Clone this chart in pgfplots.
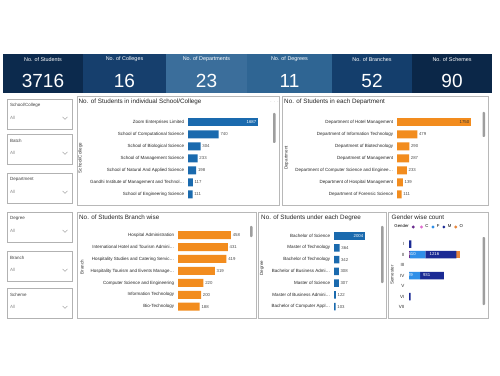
\documentclass[border=0pt]{standalone}
\usepackage{fontspec}
\setmainfont{Liberation Sans}
\usepackage{pgfplots}
\pgfplotsset{compat=1.18}
\definecolor{k1}{HTML}{0C2A4D}
\definecolor{k2}{HTML}{163F6D}
\definecolor{k3}{HTML}{3B6E9B}
\definecolor{k4}{HTML}{2F6593}
\definecolor{k5}{HTML}{143E6C}
\definecolor{k6}{HTML}{0B2748}
\definecolor{cblue}{HTML}{1A6AAE}
\definecolor{corange}{HTML}{F28C1E}
\definecolor{gpurple}{HTML}{6B2D8F}
\definecolor{gpink}{HTML}{E06FD0}
\definecolor{glblue}{HTML}{2F8FE8}
\definecolor{gnavy}{HTML}{1B2A94}
\definecolor{gorange}{HTML}{E8873D}
\newcommand\fa{\fontsize{4.5}{5.2}\selectfont}
\newcommand\fv{\fontsize{4.3}{5}\selectfont}
\newcommand\fb{\fontsize{6.3}{7.2}\selectfont}
\newcommand\fk{\fontsize{5.4}{6.2}\selectfont}
\newcommand\fn{\fontsize{19}{21}\selectfont}
\newcommand\el{\ldots}
\newcommand\slicer[2]{%
  \pgfmathsetmacro\yt{375-#2}%
  \draw[draw=black!30, fill=white, line width=0.4pt] (7,\yt) rectangle (72,\yt-30);
  \node[anchor=west, font=\fa, text=black!75, inner sep=0pt] at (10,\yt-6.5) {#1};
  \node[anchor=west, font=\fa, text=black!45, inner sep=0pt] at (10,\yt-19) {All};
  \draw[black!45, line width=0.35pt] (62.5,\yt-18) -- (65,\yt-20.3) -- (67.5,\yt-18);
}
\pgfplotsset{
  hb/.style={xbar, scale only axis, anchor=south west, xmin=0,
    y dir=reverse, ymin=-0.5, ymax=6.5, ytick={0,1,2,3,4,5,6}, xtick=\empty,
    axis line style={draw=none}, major tick length=0pt, bar shift=0pt,
    clip=false, point meta=x,
    yticklabel style={font=\fa, text=black!85, xshift=-0.3pt},
    nodes near coords, nodes near coords align=horizontal,
    every node near coord/.append style={font=\fv, text=black!70, inner sep=1.6pt},
    /pgf/number format/assume math mode=true,
    /pgf/number format/1000 sep={}},
}
\begin{document}
\begin{tikzpicture}[x=1pt,y=1pt]
\fill[white] (0,0) rectangle (500,375);
% KPI cards
\foreach \xa/\xb/\c/\t/\n in {3/83/k1/No. of Students/3716, 83/166/k2/No. of Colleges/16, 166/247/k3/No. of Departments/23, 247/332/k4/No. of Degrees/11, 332/412/k5/No. of Branches/52, 412/492/k6/No. of Schemes/90}{
  \fill[\c] (\xa,282) rectangle (\xb,321);
  \node[text=white, font=\fk, inner sep=0pt] at ({(\xa+\xb)/2},315.5) {\t};
  \node[text=white, font=\fn, inner sep=0pt] at ({(\xa+\xb)/2},294) {\n};
}
% slicers
\slicer{School/College}{99}
\slicer{Batch}{134}
\slicer{Department}{173}
\slicer{Degree}{212}
\slicer{Branch}{251}
\slicer{Scheme}{288}
% panels
\foreach \xa/\ya/\xb/\yb in {77/170/279.5/279, 282/170/488/279, 77/57/256/163, 258/57/386.5/163, 388.5/57/488/163}{
  \draw[draw=black!28, fill=white, line width=0.4pt] (\xa,\ya) rectangle (\xb,\yb);
}
% scrollbars
\foreach \xa/\ya/\yb in {273/232/262, 482.5/238/263, 250/138/149, 381/92/149, 482.5/70/138}{
  \fill[black!38, rounded corners=0.8pt] (\xa,\ya) rectangle (\xa+2.5,\yb);
}
% titles
\node[anchor=west, font=\fb, text=black!85, inner sep=0pt] at (78.5,273) {No. of Students in individual School/College};
\node[anchor=west, font=\fb, text=black!85, inner sep=0pt] at (284,273) {No. of Students in each Department};
\node[anchor=west, font=\fb, text=black!85, inner sep=0pt] at (79,157.3) {No. of Students Branch wise};
\node[anchor=west, font=\fb, text=black!85, inner sep=0pt] at (261,157.3) {No. of Students under each Degree};
\node[anchor=west, font=\fb, text=black!85, inner sep=0pt] at (391.5,158) {Gender wise count};
% toolbar icons on first panel
\node[font=\fa, text=black!40, inner sep=0pt] at (274.5,273) {$\cdots$};
% axis titles
\node[rotate=90, font=\fa, text=black!80, inner sep=0pt] at (80.5,217) {School/College};
\node[rotate=90, font=\fa, text=black!80, inner sep=0pt] at (286.5,217) {Department};
\node[rotate=90, font=\fa, text=black!80, inner sep=0pt] at (82,108) {Branch};
\node[rotate=90, font=\fa, text=black!80, inner sep=0pt] at (262,107) {Degree};
\node[rotate=90, font=\fa, text=black!80, inner sep=0pt] at (392,100) {Semester};

% Panel 1: school/college
\begin{axis}[hb, at={(188pt,174.7pt)}, width=82pt, height=84pt, xmax=1976,
  yticklabels={Zoom Enterprises Limited, School of Computational Science, School of Biological Science, School of Management Science, School of Natural And Applied Science, {Gandhi Institute of Management and Technol\el}, School of Engineering Science}]
\addplot[fill=cblue, draw=none, bar width=8pt, every node near coord/.append style={anchor=east, text=white}] coordinates {(1687,0)};
\addplot[fill=cblue, draw=none, bar width=8pt] coordinates {(740,1) (304,2) (233,3) (198,4) (117,5) (111,6)};
\end{axis}

% Panel 2: department
\begin{axis}[hb, at={(397pt,174.7pt)}, width=80pt, height=84pt, xmax=1892,
  yticklabels={Department of Hotel Management, Department of Information Technology, Department of Biotechnology, Department of Management, {Department of Computer Science and Enginee\el}, Department of Hospital Management, Department of Forensic Science}]
\addplot[fill=corange, draw=none, bar width=8pt, every node near coord/.append style={anchor=east, text=black!80}] coordinates {(1750,0)};
\addplot[fill=corange, draw=none, bar width=8pt] coordinates {(479,1) (290,2) (287,3) (233,4) (139,5) (111,6)};
\end{axis}

% Panel 3: branch
\begin{axis}[hb, at={(178pt,62.3pt)}, width=62pt, height=83.6pt, xmax=536,
  yticklabels={Hospital Administration, {International Hotel and Tourism Admini\el}, {Hospitality Studies and Catering Servic\el}, {Hospitality Tourism and Events Manage\el}, Computer Science and Engineering, Information Technology, Bio-Technology}]
\addplot[fill=corange, draw=none, bar width=8pt] coordinates {(458,0) (431,1) (419,2) (319,3) (220,4) (200,5) (188,6)};
\end{axis}

% Panel 4: degree
\begin{axis}[hb, at={(334pt,62.4pt)}, width=40pt, height=82.5pt, xmax=2586,
  yticklabels={Bachelor of Science, Master of Technology, Bachelor of Technology, {Bachelor of Business Admi\el}, Master of Science, {Master of Business Admini\el}, {Bachelor of Computer Appl\el}}]
\addplot[fill=cblue, draw=none, bar width=7.5pt, every node near coord/.append style={anchor=east, text=white}] coordinates {(2004,0)};
\addplot[fill=cblue, draw=none, bar width=7.5pt] coordinates {(364,1) (342,2) (308,3) (307,4) (122,5) (103,6)};
\end{axis}

% Panel 5: gender stacked
\begin{axis}[xbar stacked, scale only axis, anchor=south west, at={(409pt,62.75pt)},
  width=70pt, height=73.5pt, xmin=0, xmax=2730,
  y dir=reverse, ymin=-0.5, ymax=6.5, ytick={0,1,2,3,4,5,6},
  yticklabels={I,II,III,IV,V,VI,VII}, xtick=\empty,
  axis line style={draw=none}, major tick length=0pt, bar width=7.5pt, clip=false,
  yticklabel style={font=\fa, text=black!85, xshift=-1pt},
  legend style={at={(-0.243,1.16)}, anchor=west, draw=none, fill=none,
    legend columns=-1, font=\fv, inner sep=0pt,
    /tikz/every even column/.append style={column sep=0.8pt},
    /tikz/every odd column/.append style={column sep=0.3pt}},
  legend image code/.code={\fill[#1] (1.6pt,0pt) circle (1.6pt);},
  /pgf/number format/assume math mode=true]
\addlegendimage{empty legend}
\addlegendentry{Gender}
\addplot[fill=gpurple, draw=none] coordinates {(0,0) (25,1) (0,2) (0,3) (0,4) (0,5) (0,6)};
\addlegendentry{}
\addplot[fill=gpink, draw=none] coordinates {(0,0) (0,1) (0,2) (0,3) (0,4) (0,5) (0,6)};
\addlegendentry{C}
\addplot[fill=glblue, draw=none, nodes near coords, point meta=explicit symbolic,
  every node near coord/.append style={font=\fv, text=white, anchor=east, inner sep=1.5pt}]
  coordinates {(0,0) [{}] (610,1) [610] (0,2) [{}] (429,3) [429] (0,4) [{}] (0,5) [{}] (0,6) [{}]};
\addlegendentry{F}
\addplot[fill=gnavy, draw=none, nodes near coords, point meta=explicit symbolic,
  every node near coord/.append style={font=\fv, text=white, anchor=east, inner sep=1.5pt}]
  coordinates {(90,0) [{}] (1216,1) [1216] (0,2) [{}] (931,3) [931] (0,4) [{}] (65,5) [{}] (0,6) [{}]};
\addlegendentry{M}
\addplot[fill=gorange, draw=none] coordinates {(0,0) (150,1) (0,2) (0,3) (0,4) (0,5) (0,6)};
\addlegendentry{O}
\end{axis}
\end{tikzpicture}
\end{document}
